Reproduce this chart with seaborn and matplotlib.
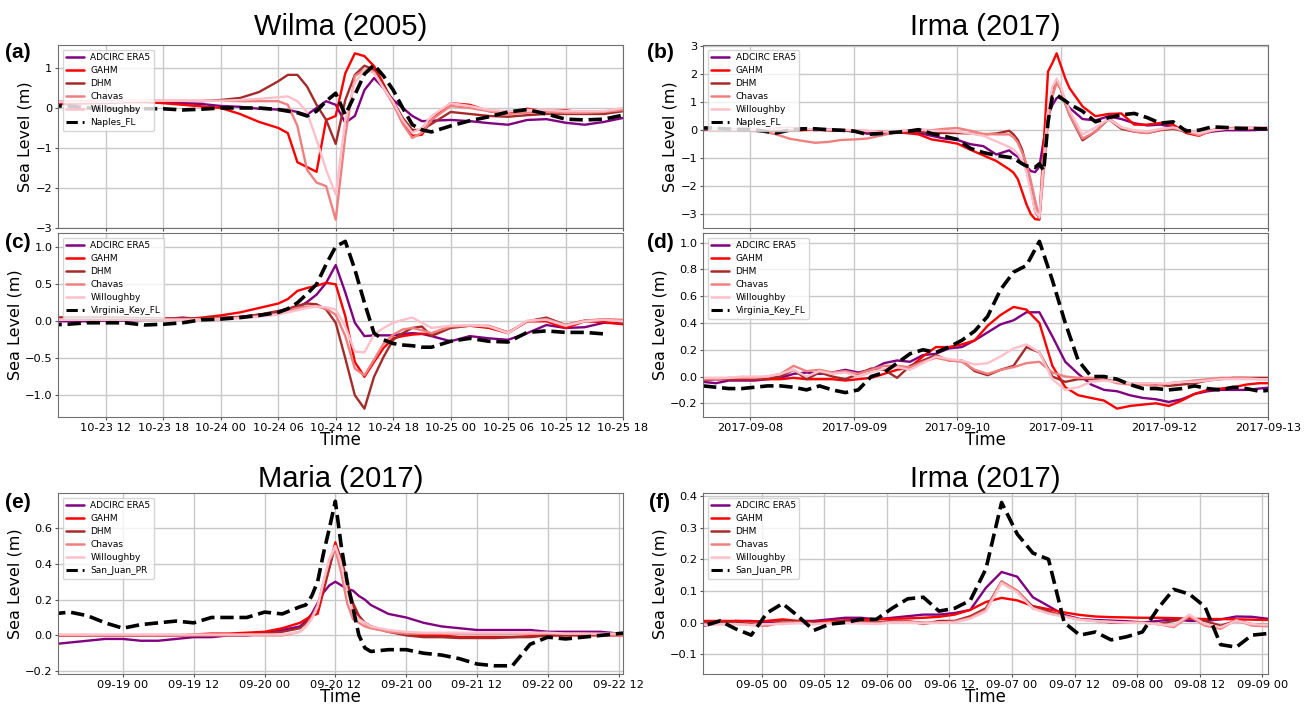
import numpy as np
import pandas as pd
import matplotlib
matplotlib.use("Agg")
import matplotlib.pyplot as plt
import matplotlib.dates as mdates
from matplotlib.ticker import MultipleLocator
import seaborn as sns

sns.set_style("ticks")
plt.rcParams.update({"text.color": "black", "axes.labelcolor": "black",
                     "xtick.color": "black", "ytick.color": "black"})

# ---------------------------------------------------------------
# time axes (irregular sampling: finer around landfall)
# ---------------------------------------------------------------
wilma_t = (pd.date_range("2005-10-23 06:00", "2005-10-24 04:00", freq="2h")
           .append(pd.date_range("2005-10-24 06:00", "2005-10-24 22:00", freq="1h"))
           .append(pd.date_range("2005-10-25 00:00", "2005-10-25 18:00", freq="2h")))

irma_b_t = (pd.date_range("2017-09-07 12:00", "2017-09-10 12:00", freq="3h")
            .append(pd.date_range("2017-09-10 13:00", "2017-09-11 02:00", freq="1h"))
            .append(pd.date_range("2017-09-11 05:00", "2017-09-13 02:00", freq="3h")))

irma_d_t = pd.date_range("2017-09-07 13:00", "2017-09-13 01:00", freq="3h")

maria_t = (pd.date_range("2017-09-18 12:00", "2017-09-20 06:00", freq="3h")
           .append(pd.date_range("2017-09-20 07:00", "2017-09-20 18:00", freq="1h"))
           .append(pd.date_range("2017-09-20 21:00", "2017-09-22 15:00", freq="3h")))

irma_pr_t = pd.date_range("2017-09-04 10:00", "2017-09-09 04:00", freq="3h")

model_names = ["ADCIRC ERA5", "GAHM", "DHM", "Chavas", "Willoughby"]
model_colors = ["purple", "red", "brown", "lightcoral", "pink"]

# ---------------------------------------------------------------
# (a) Wilma - Naples_FL
# ---------------------------------------------------------------
naples_a = [0.05, 0.05, 0.0, 0.0, -0.05, -0.02, -0.02, -0.05, -0.03, 0.0, 0.0, 0.0,
            -0.04, -0.08, -0.12, -0.2, -0.08, 0.17, 0.37, -0.17, 0.33, 0.85, 1.08, 0.8, 0.45, 0.0, -0.42, -0.55, -0.6,
            -0.45, -0.32, -0.22, -0.1, -0.04, -0.15, -0.28, -0.3, -0.28, -0.18]
adcirc_a = [0.1, 0.1, 0.12, 0.12, 0.15, 0.15, 0.15, 0.12, 0.1, 0.05, 0.03, -0.02,
            -0.04, -0.05, -0.1, -0.17, 0.0, 0.17, 0.08, -0.37, -0.2, 0.45, 0.75, 0.5, 0.2, 0.0, -0.2, -0.33, -0.32,
            -0.3, -0.33, -0.38, -0.42, -0.3, -0.28, -0.37, -0.42, -0.35, -0.25]
gahm_a = [0.1, 0.12, 0.12, 0.15, 0.15, 0.15, 0.12, 0.08, 0.04, 0.0, -0.15, -0.35,
          -0.5, -0.63, -1.36, -1.48, -1.6, -0.3, -0.2, 0.87, 1.37, 1.3, 1.05, 0.6, 0.12, -0.35, -0.7, -0.67, -0.3,
          0.12, 0.08, -0.08, -0.15, -0.02, -0.08, -0.06, -0.12, -0.12, -0.04]
dhm_a = [0.15, 0.15, 0.15, 0.15, 0.15, 0.17, 0.17, 0.17, 0.17, 0.2, 0.25, 0.4,
         0.67, 0.83, 0.83, 0.54, 0.08, -0.3, -0.9, 0.2, 0.83, 1.06, 0.96, 0.55, 0.17, -0.25, -0.55, -0.55, -0.4,
         -0.1, -0.15, -0.2, -0.22, -0.18, -0.15, -0.15, -0.15, -0.15, -0.08]
chavas_a = [0.16, 0.16, 0.17, 0.17, 0.18, 0.18, 0.18, 0.18, 0.18, 0.18, 0.17, 0.17,
            0.17, 0.08, -0.45, -1.55, -1.87, -1.96, -2.8, -0.7, 0.8, 0.96, 0.9, 0.5, 0.1, -0.4, -0.75, -0.62, -0.3,
            0.05, 0.0, -0.08, -0.15, -0.12, -0.1, -0.12, -0.12, -0.1, -0.05]
will_a = [0.15, 0.15, 0.15, 0.15, 0.17, 0.18, 0.18, 0.18, 0.18, 0.18, 0.2, 0.23,
          0.27, 0.29, 0.17, -0.1, -0.8, -1.55, -2.17, -0.3, 0.62, 0.96, 0.87, 0.5, 0.15, -0.3, -0.62, -0.5, -0.2,
          0.12, 0.05, -0.05, -0.08, -0.05, -0.05, -0.08, -0.08, -0.08, 0.0]

# ---------------------------------------------------------------
# (c) Wilma - Virginia_Key_FL
# ---------------------------------------------------------------
vkey_c = [-0.05, -0.04, -0.02, -0.02, -0.02, -0.05, -0.04, -0.02, 0.02, 0.03, 0.05, 0.08,
          0.12, 0.17, 0.25, 0.37, 0.5, 0.77, 1.01, 1.08, 0.7, 0.25, -0.16, -0.25, -0.3, -0.32, -0.33, -0.35, -0.35,
          -0.27, -0.23, -0.27, -0.28, -0.15, -0.13, -0.15, -0.15, -0.17, np.nan]
adcirc_c = [0.0, 0.0, 0.0, 0.01, 0.01, 0.02, 0.03, 0.05, 0.03, 0.03, 0.06, 0.09,
            0.12, 0.15, 0.18, 0.26, 0.36, 0.52, 0.76, 0.39, -0.02, -0.2, -0.19, -0.19, -0.19, -0.17, -0.16, -0.17, -0.2,
            -0.27, -0.2, -0.23, -0.25, -0.16, -0.05, -0.09, -0.08, -0.02, -0.03]
gahm_c = [0.05, 0.05, 0.05, 0.05, 0.04, 0.04, 0.03, 0.03, 0.05, 0.08, 0.12, 0.18,
          0.24, 0.3, 0.41, 0.45, 0.48, 0.52, 0.5, 0.07, -0.55, -0.75, -0.55, -0.36, -0.23, -0.2, -0.18, -0.17, -0.17,
          -0.07, -0.06, -0.09, -0.16, 0.0, 0.0, -0.09, 0.0, -0.01, -0.04]
dhm_c = [0.05, 0.05, 0.05, 0.05, 0.05, 0.04, 0.04, 0.04, 0.04, 0.05, 0.06, 0.09,
         0.14, 0.17, 0.21, 0.24, 0.23, 0.16, -0.02, -0.5, -1.0, -1.18, -0.75, -0.48, -0.25, -0.16, -0.09, -0.07, -0.2,
         -0.09, -0.06, -0.07, -0.15, 0.0, 0.05, -0.05, 0.01, 0.02, 0.01]
chavas_c = [0.03, 0.03, 0.03, 0.03, 0.03, 0.03, 0.03, 0.03, 0.03, 0.04, 0.05, 0.07,
            0.1, 0.14, 0.18, 0.2, 0.2, 0.17, 0.09, -0.2, -0.64, -0.73, -0.52, -0.3, -0.18, -0.11, -0.09, -0.12, -0.16,
            -0.07, -0.06, -0.06, -0.15, 0.0, 0.03, -0.05, 0.01, 0.03, 0.02]
will_c = [0.02, 0.02, 0.02, 0.02, 0.02, 0.02, 0.02, 0.02, 0.02, 0.03, 0.04, 0.06,
          0.09, 0.12, 0.15, 0.18, 0.2, 0.19, 0.16, -0.07, -0.41, -0.42, -0.18, -0.09, -0.02, 0.02, 0.05, -0.02, -0.09,
          -0.06, -0.05, -0.07, -0.16, 0.01, 0.02, -0.06, 0.0, 0.02, 0.0]

# ---------------------------------------------------------------
# (b) Irma - Naples_FL
# ---------------------------------------------------------------
naples_b = [0.08, 0.08, 0.05, 0.03, 0.03, -0.03, -0.1, 0.0, 0.05, 0.05, 0.02, 0.0,
            -0.03, -0.15, -0.12, -0.08, -0.05, 0.02, -0.12, -0.22, -0.33, -0.65, -0.8, -0.9, -0.97,
            -1.0, -1.1, -1.2, -1.28, -1.3, -1.33, -1.2, -1.45, 0.3, 1.2, 1.27, 1.15, 1.05, 0.93,
            0.68, 0.3, 0.45, 0.55, 0.6, 0.45, 0.25, 0.3, -0.03, 0.0, 0.12, 0.1, 0.07, 0.06, 0.05, 0.05]
adcirc_b = [0.0, 0.02, 0.02, 0.02, 0.0, -0.03, 0.05, 0.08, 0.05, 0.0, 0.02, 0.0,
            -0.05, -0.12, -0.15, -0.1, -0.05, -0.1, -0.2, -0.3, -0.35, -0.5, -0.57, -0.87, -0.72,
            -0.85, -0.95, -1.15, -1.3, -1.46, -1.5, -1.3, -0.35, 0.5, 0.9, 1.15, 1.19, 1.0, 0.8,
            0.4, 0.35, 0.5, 0.4, 0.25, 0.17, 0.2, 0.12, 0.02, -0.15, -0.05, 0.0, 0.0, 0.0, 0.02, 0.05]
gahm_b = [0.05, 0.05, 0.03, 0.02, 0.02, 0.0, -0.02, -0.02, 0.0, 0.02, 0.0, -0.02,
          -0.02, -0.03, -0.05, -0.08, -0.1, -0.15, -0.33, -0.4, -0.48, -0.7, -0.9, -1.1, -1.4,
          -1.52, -1.75, -2.2, -2.65, -3.0, -3.18, -3.2, -0.5, 2.1, 2.4, 2.75, 2.3, 1.85, 1.5,
          0.85, 0.5, 0.58, 0.6, 0.2, 0.2, 0.26, 0.2, -0.1, -0.2, 0.0, 0.07, 0.08, 0.08, 0.08, 0.08]
dhm_b = [0.02, 0.03, 0.03, 0.02, 0.0, 0.0, 0.05, 0.08, 0.05, 0.02, 0.0, 0.0,
         -0.02, -0.05, -0.05, -0.08, -0.05, -0.05, -0.1, -0.1, -0.1, -0.12, -0.15, -0.12, -0.02,
         -0.15, -0.35, -0.7, -1.3, -2.0, -2.9, -3.15, -1.2, 0.5, 1.45, 1.75, 1.45, 0.95, 0.55,
         -0.36, -0.05, 0.4, 0.05, -0.05, -0.1, 0.0, 0.05, -0.05, -0.15, 0.0, 0.05, 0.05, 0.05, 0.05, 0.05]
chavas_b = [0.05, 0.03, 0.02, 0.0, -0.02, -0.05, -0.15, -0.3, -0.38, -0.45, -0.42, -0.35,
            -0.33, -0.3, -0.2, -0.1, -0.02, 0.02, 0.0, 0.05, 0.08, -0.02, -0.13, -0.15, -0.15,
            -0.25, -0.45, -0.8, -1.2, -1.8, -2.5, -3.15, -1.5, 0.3, 1.2, 1.7, 1.45, 0.95, 0.55,
            -0.3, -0.05, 0.44, 0.1, -0.05, -0.1, 0.02, 0.08, -0.05, -0.18, -0.02, 0.05, 0.06, 0.08, 0.1, 0.1]
will_b = [0.05, 0.05, 0.03, 0.03, 0.02, 0.02, 0.05, 0.06, 0.05, 0.03, 0.02, 0.02,
          0.0, -0.02, -0.05, -0.05, 0.0, 0.02, -0.02, -0.03, -0.05, -0.12, -0.2, -0.4, -0.6,
          -0.69, -0.85, -1.1, -1.5, -2.2, -2.9, -3.1, -1.0, 0.7, 1.55, 1.85, 1.55, 1.1, 0.7,
          -0.15, 0.1, 0.4, 0.1, 0.0, -0.05, 0.05, 0.1, 0.0, -0.12, 0.0, 0.05, 0.06, 0.08, 0.1, 0.1]

# ---------------------------------------------------------------
# (d) Irma - Virginia_Key_FL
# ---------------------------------------------------------------
vkey_d = [-0.07, -0.08, -0.09, -0.09,
          -0.08, -0.07, -0.07, -0.08, -0.1, -0.07, -0.1, -0.12,
          -0.1, 0.0, 0.03, 0.1, 0.17, 0.2, 0.18, 0.22,
          0.27, 0.34, 0.45, 0.65, 0.78, 0.83, 1.01, 0.72,
          0.4, 0.12, 0.0, 0.0, -0.02, -0.06, -0.09, -0.09,
          -0.1, -0.09, -0.07, -0.09, -0.1, -0.08, -0.09, -0.11,
          -0.1]
adcirc_d = [-0.04, -0.05, -0.03, -0.03,
            -0.03, -0.02, -0.01, 0.02, 0.03, 0.02, 0.03, 0.05,
            0.03, 0.05, 0.1, 0.12, 0.11, 0.16, 0.17, 0.21,
            0.22, 0.27, 0.33, 0.39, 0.42, 0.48, 0.48, 0.3,
            0.11, 0.02, -0.06, -0.1, -0.11, -0.14, -0.16, -0.17,
            -0.19, -0.17, -0.13, -0.11, -0.1, -0.1, -0.1, -0.09,
            -0.08]
gahm_d = [-0.02, -0.02, -0.02, -0.02,
          -0.02, -0.02, -0.02, -0.01, -0.02, -0.02, -0.02, -0.03,
          -0.02, -0.01, 0.02, 0.05, 0.07, 0.15, 0.22, 0.22,
          0.24, 0.27, 0.38, 0.46, 0.52, 0.5, 0.4, 0.08,
          -0.08, -0.14, -0.16, -0.18, -0.24, -0.22, -0.21, -0.2,
          -0.22, -0.18, -0.13, -0.1, -0.09, -0.08, -0.06, -0.05,
          -0.05]
dhm_d = [-0.03, -0.02, -0.02, -0.02,
         -0.02, -0.01, 0.0, 0.05, -0.02, 0.03, 0.0, -0.02,
         0.02, 0.06, 0.05, -0.01, 0.08, 0.12, 0.16, 0.12,
         0.12, 0.04, 0.01, 0.05, 0.08, 0.22, 0.18, 0.0,
         -0.04, -0.02, -0.02, -0.02, -0.04, -0.05, -0.05, -0.06,
         -0.07, -0.06, -0.05, -0.03, -0.02, -0.01, -0.01, -0.01,
         -0.01]
chavas_d = [-0.02, -0.02, -0.01, -0.01,
            -0.01, 0.0, 0.02, 0.08, 0.04, 0.05, 0.03, 0.04,
            0.02, 0.05, 0.08, 0.08, 0.07, 0.11, 0.14, 0.12,
            0.11, 0.05, 0.02, 0.05, 0.07, 0.1, 0.11, 0.03,
            0.0, -0.01, -0.01, -0.02, -0.05, -0.06, -0.06, -0.07,
            -0.05, -0.04, -0.03, -0.02, -0.01, -0.01, -0.01, -0.02,
            -0.02]
will_d = [-0.01, -0.01, -0.01, 0.0,
          0.0, 0.0, 0.02, 0.05, 0.0, 0.04, 0.02, 0.03,
          0.0, 0.03, 0.06, 0.07, 0.05, 0.1, 0.15, 0.13,
          0.12, 0.09, 0.1, 0.15, 0.21, 0.24, 0.18, -0.02,
          -0.1, -0.08, -0.04, -0.03, -0.04, -0.05, -0.05, -0.05,
          -0.05, -0.04, -0.04, -0.03, -0.02, -0.02, -0.02, -0.02,
          -0.02]

# ---------------------------------------------------------------
# (e) Maria - San_Juan_PR
# ---------------------------------------------------------------
sanjuan_e = [0.12, 0.13, 0.11, 0.07, 0.04, 0.06, 0.07, 0.08, 0.07, 0.1, 0.1, 0.1, 0.13, 0.12, 0.16,
             0.17, 0.22, 0.3, 0.46, 0.6, 0.75, 0.5, 0.3, 0.15, 0.0, -0.07, -0.09,
             -0.08, -0.08, -0.1, -0.11, -0.13, -0.16, -0.17, -0.17, -0.05, -0.01, -0.02, -0.01, 0.0, 0.01, 0.02]
adcirc_e = [-0.05, -0.04, -0.03, -0.02, -0.02, -0.03, -0.03, -0.02, -0.01, -0.01, 0.0, 0.0, 0.01, 0.03, 0.05,
            0.08, 0.12, 0.18, 0.24, 0.28, 0.3, 0.28, 0.26, 0.25, 0.22, 0.2, 0.17,
            0.12, 0.1, 0.07, 0.05, 0.04, 0.03, 0.03, 0.03, 0.03, 0.02, 0.02, 0.02, 0.02, 0.01, 0.01]
gahm_e = [0.0, 0.0, 0.0, 0.0, 0.0, 0.0, 0.0, 0.0, 0.005, 0.01, 0.01, 0.015, 0.02, 0.04, 0.07,
          0.09, 0.11, 0.12, 0.25, 0.38, 0.52, 0.42, 0.27, 0.16, 0.1, 0.07, 0.05,
          0.02, 0.01, 0.0, 0.0, -0.01, -0.01, -0.01, -0.01, -0.005, 0.0, 0.0, 0.0, 0.0, 0.0, 0.0]
dhm_e = [0.0, 0.0, 0.0, 0.0, 0.0, 0.0, 0.0, 0.0, 0.0, 0.0, 0.0, 0.0, 0.01, 0.02, 0.04,
         0.07, 0.1, 0.15, 0.27, 0.38, 0.5, 0.43, 0.3, 0.18, 0.11, 0.07, 0.05,
         0.02, 0.0, -0.01, -0.01, -0.015, -0.015, -0.015, -0.01, -0.01, 0.0, 0.0, 0.005, 0.005, 0.01, 0.01]
chavas_e = [0.0, 0.0, 0.0, 0.0, 0.0, 0.0, 0.0, 0.0, 0.0, 0.0, 0.0, 0.0, 0.0, 0.0, 0.02,
            0.05, 0.1, 0.17, 0.3, 0.42, 0.48, 0.35, 0.18, 0.09, 0.07, 0.05, 0.04,
            0.02, 0.01, 0.01, 0.01, 0.01, 0.01, 0.01, 0.01, 0.01, 0.01, 0.01, 0.01, 0.005, 0.0, 0.0]
will_e = [0.005, 0.005, 0.005, 0.005, 0.005, 0.005, 0.005, 0.005, 0.005, 0.005, 0.005, 0.005, 0.005, 0.005, 0.02,
          0.05, 0.09, 0.16, 0.3, 0.43, 0.5, 0.4, 0.25, 0.13, 0.09, 0.07, 0.05,
          0.03, 0.02, 0.015, 0.015, 0.015, 0.015, 0.015, 0.015, 0.015, 0.015, 0.01, 0.01, 0.01, 0.01, 0.01]

# ---------------------------------------------------------------
# (f) Irma - San_Juan_PR
# ---------------------------------------------------------------
sanjuan_f = [-0.01, -0.01, 0.005, -0.02, -0.04,
             0.03, 0.06, 0.02, -0.025, -0.005, 0.0, 0.01, 0.01,
             0.045, 0.075, 0.08, 0.036, 0.045, 0.07, 0.17, 0.38,
             0.28, 0.22, 0.2, 0.0, -0.04, -0.03, -0.055, -0.045,
             -0.03, 0.045, 0.105, 0.09, 0.05, -0.07, -0.078, -0.04,
             -0.035, -0.03]
adcirc_f = [-0.01, -0.01, 0.0, 0.005, 0.005,
            0.0, 0.0, 0.005, 0.005, 0.01, 0.015, 0.015, 0.01,
            0.015, 0.02, 0.025, 0.025, 0.03, 0.04, 0.11, 0.16,
            0.145, 0.08, 0.052, 0.024, 0.011, 0.008, 0.006, 0.004,
            0.0, 0.005, 0.01, 0.005, 0.005, 0.01, 0.019, 0.018,
            0.012, 0.012]
gahm_f = [0.005, 0.005, 0.005, 0.005, 0.003,
          0.005, 0.01, 0.005, 0.002, 0.005, 0.007, 0.008, 0.01,
          0.012, 0.013, 0.015, 0.018, 0.025, 0.04, 0.065, 0.078,
          0.07, 0.052, 0.042, 0.032, 0.024, 0.019, 0.017, 0.016,
          0.015, 0.015, 0.014, 0.012, 0.011, 0.011, 0.01, 0.009,
          0.008, 0.008]
dhm_f = [0.0, 0.0, 0.0, 0.0, -0.005,
         -0.01, 0.005, 0.003, 0.0, 0.0, 0.005, 0.003, 0.0,
         0.005, 0.005, -0.005, 0.005, 0.005, 0.02, 0.045, 0.13,
         0.1, 0.05, 0.035, 0.02, 0.01, 0.005, 0.0, 0.0,
         0.0, -0.005, 0.005, 0.015, 0.005, -0.01, 0.005, -0.005,
         -0.008, -0.01]
chavas_f = [-0.005, -0.005, -0.005, -0.005, -0.008,
            -0.01, 0.0, 0.0, -0.005, 0.0, 0.0, 0.0, -0.002,
            0.002, 0.003, 0.0, 0.0, 0.003, 0.015, 0.04, 0.13,
            0.1, 0.045, 0.03, 0.02, 0.01, 0.005, 0.002, 0.0,
            0.0, -0.005, -0.015, 0.02, -0.01, -0.02, 0.008, -0.01,
            -0.012, -0.012]
will_f = [-0.008, -0.008, -0.005, -0.005, -0.008,
          -0.005, -0.005, -0.002, -0.005, -0.003, -0.002, -0.003, -0.005,
          0.0, 0.0, -0.003, 0.0, 0.0, 0.012, 0.035, 0.125,
          0.095, 0.045, 0.028, 0.018, 0.008, 0.004, 0.002, 0.0,
          -0.002, -0.005, -0.01, 0.025, -0.005, -0.015, 0.005, -0.005,
          -0.008, -0.01]

# ---------------------------------------------------------------
# figure
# ---------------------------------------------------------------
W, H = 1307, 707
fig = plt.figure(figsize=(W / 100, H / 100), dpi=100)


def rect(x0, top, x1, bottom):
    return [x0 / W, 1 - bottom / H, (x1 - x0) / W, (bottom - top) / H]


ax_a = fig.add_axes(rect(58, 45, 623, 228))
ax_b = fig.add_axes(rect(703, 45, 1268, 228))
ax_c = fig.add_axes(rect(58, 233, 623, 417))
ax_d = fig.add_axes(rect(703, 233, 1268, 417))
ax_e = fig.add_axes(rect(58, 493, 623, 674))
ax_f = fig.add_axes(rect(703, 493, 1268, 674))

title_font = ["Liberation Sans Narrow", "Liberation Sans", "DejaVu Sans"]


def draw_panel(ax, t, models, obs, obs_name):
    for name, color, vals in zip(model_names, model_colors, models):
        sns.lineplot(x=t, y=vals, ax=ax, color=color, linewidth=1.7, label=name)
    sns.lineplot(x=t, y=obs, ax=ax, color="black", linewidth=2.6, linestyle="--",
                 label=obs_name)
    ax.grid(True, color="#c8c8c8", linewidth=1.0)
    ax.set_axisbelow(True)
    for sp in ax.spines.values():
        sp.set_color("#707070")
    ax.tick_params(labelsize=8.2, length=2.5, pad=1.5, color="#555555")
    ax.set_ylabel("Sea Level (m)", fontsize=11.5, labelpad=2)
    ax.set_xlabel("")
    leg = ax.legend(loc="upper left", fontsize=6.5, frameon=True, handlelength=2.0,
                    borderpad=0.4, labelspacing=0.45, handletextpad=0.7)
    leg.get_frame().set_edgecolor("#cccccc")
    for line in leg.get_lines():
        line.set_linewidth(2.2 if line.get_linestyle() == "--" else 1.8)


draw_panel(ax_a, wilma_t, [adcirc_a, gahm_a, dhm_a, chavas_a, will_a], naples_a, "Naples_FL")
draw_panel(ax_c, wilma_t, [adcirc_c, gahm_c, dhm_c, chavas_c, will_c], vkey_c, "Virginia_Key_FL")
draw_panel(ax_b, irma_b_t, [adcirc_b, gahm_b, dhm_b, chavas_b, will_b], naples_b, "Naples_FL")
draw_panel(ax_d, irma_d_t, [adcirc_d, gahm_d, dhm_d, chavas_d, will_d], vkey_d, "Virginia_Key_FL")
draw_panel(ax_e, maria_t, [adcirc_e, gahm_e, dhm_e, chavas_e, will_e], sanjuan_e, "San_Juan_PR")
draw_panel(ax_f, irma_pr_t, [adcirc_f, gahm_f, dhm_f, chavas_f, will_f], sanjuan_f, "San_Juan_PR")

# y ticks
ax_a.yaxis.set_major_locator(MultipleLocator(1))
ax_b.yaxis.set_major_locator(MultipleLocator(1))
ax_c.yaxis.set_major_locator(MultipleLocator(0.5))
ax_d.yaxis.set_major_locator(MultipleLocator(0.2))
ax_e.yaxis.set_major_locator(MultipleLocator(0.2))
ax_f.yaxis.set_major_locator(MultipleLocator(0.1))
ax_f.set_ylim(-0.163, 0.41)

# x axes
wilma_lim = (pd.Timestamp("2005-10-23 07:00"), pd.Timestamp("2005-10-25 18:00"))
irma_fl_lim = (pd.Timestamp("2017-09-07 13:00"), pd.Timestamp("2017-09-13 00:00"))
maria_lim = (pd.Timestamp("2017-09-18 13:00"), pd.Timestamp("2017-09-22 12:45"))
irma_pr_lim = (pd.Timestamp("2017-09-04 12:45"), pd.Timestamp("2017-09-09 01:05"))

for ax in (ax_a, ax_c):
    ax.set_xlim(wilma_lim)
    ax.xaxis.set_major_locator(mdates.HourLocator(byhour=[0, 6, 12, 18]))
    ax.xaxis.set_major_formatter(mdates.DateFormatter("%m-%d %H"))
for ax in (ax_b, ax_d):
    ax.set_xlim(irma_fl_lim)
    ax.xaxis.set_major_locator(mdates.DayLocator())
    ax.xaxis.set_major_formatter(mdates.DateFormatter("%Y-%m-%d"))
ax_e.set_xlim(maria_lim)
ax_f.set_xlim(irma_pr_lim)
for ax in (ax_e, ax_f):
    ax.xaxis.set_major_locator(mdates.HourLocator(byhour=[0, 12]))
    ax.xaxis.set_major_formatter(mdates.DateFormatter("%m-%d %H"))

ax_a.tick_params(labelbottom=False)
ax_b.tick_params(labelbottom=False)
for ax in (ax_c, ax_d, ax_e, ax_f):
    ax.set_xlabel("Time", fontsize=12, labelpad=-1)

# titles
ax_a.set_title("Wilma (2005)", fontsize=21, family=title_font, pad=7)
ax_b.set_title("Irma (2017)", fontsize=21, family=title_font, pad=7)
ax_e.set_title("Maria (2017)", fontsize=21, family=title_font, pad=4)
ax_f.set_title("Irma (2017)", fontsize=21, family=title_font, pad=4)

# panel letters
for lab, x, y in [("(a)", 18, 52), ("(b)", 660, 52), ("(c)", 18, 243),
                  ("(d)", 660, 243), ("(e)", 18, 503), ("(f)", 660, 503)]:
    fig.text(x / W, 1 - y / H, lab, fontsize=15, fontweight="bold", family=title_font,
             ha="center", va="center")

fig.savefig("out.png", dpi=100)
